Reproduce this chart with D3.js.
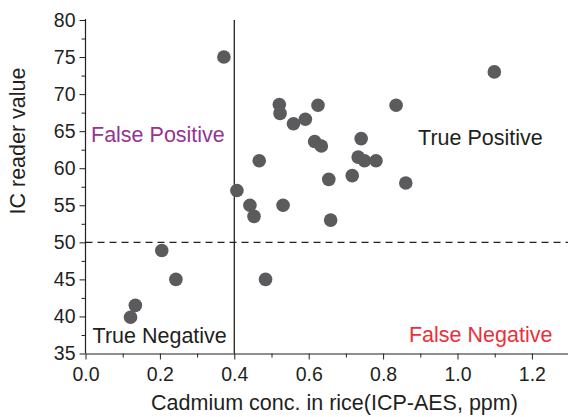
<!DOCTYPE html>
<html><head><meta charset="utf-8">
<script src="https://cdn.jsdelivr.net/npm/d3@7"></script>
<style>body{margin:0;background:#fff}svg{display:block}text{font-family:"Liberation Sans",Arial,sans-serif}</style>
</head><body><svg id="c" width="568" height="417"></svg>
<script>
const cadmium = [0.372,0.407,0.442,0.453,0.467,0.484,0.531,0.521,0.523,0.559,0.591,0.625,0.835,1.099,0.616,0.634,0.741,0.733,0.750,0.781,0.654,0.717,0.861,0.659,0.205,0.243,0.134,0.121];
const icValue = [75,57,55,53.5,61,45,55,68.6,67.4,66,66.6,68.5,68.5,73,63.6,63,64,61.5,61,61,58.5,59,58,53,48.9,45,41.5,39.9];
const xTicks = [0,0.2,0.4,0.6,0.8,1.0,1.2];
const yTicks = [35,40,45,50,55,60,65,70,75,80];
const cutoffX = 0.4, cutoffY = 50;
const quadrants = [
  {label:"False Positive", x:0.0148, y:63.55, color:"#953592"},
  {label:"True Positive", x:0.894, y:63.1, color:"#231f20"},
  {label:"True Negative", x:0.019, y:36.4, color:"#231f20"},
  {label:"False Negative", x:0.8696, y:36.5, color:"#ec2f3a"}
];

const svg = d3.select("#c");
const L=85.5, T=20, B=353.5;
const x = d3.scaleLinear().domain([0,1.3]).range([L, L+1.3*372]);
const y = d3.scaleLinear().domain([35,80]).range([B, T]);
const ink="#231f20";

// axes
const xa = svg.append("g").attr("transform",`translate(0,${B})`)
  .call(d3.axisBottom(x).tickValues(xTicks).tickFormat(d3.format(".1f")).tickSize(6).tickSizeOuter(0));
svg.append("g").attr("transform",`translate(0,${B})`)
  .call(d3.axisBottom(x).tickValues(d3.range(0.1,1.31,0.2)).tickFormat("").tickSize(4).tickSizeOuter(0))
  .select(".domain").remove();
const ya = svg.append("g").attr("transform",`translate(${L},0)`)
  .call(d3.axisLeft(y).tickValues(yTicks).tickSize(6).tickSizeOuter(0));
svg.append("g").attr("transform",`translate(${L},0)`)
  .call(d3.axisLeft(y).tickValues(d3.range(37.5,80,5)).tickFormat("").tickSize(4).tickSizeOuter(0))
  .select(".domain").remove();
svg.selectAll(".domain").attr("stroke",ink).attr("stroke-width",1.2);
svg.selectAll(".tick line").attr("stroke",ink).attr("stroke-width",1);
xa.selectAll("text").attr("font-size",19.5).attr("fill",ink).attr("dy","0.95em");
ya.selectAll("text").attr("font-size",19.5).attr("fill",ink).attr("dx","-0.05em");
ya.select(".domain").attr("d",`M0,${B}V${T-1}`);

// reference lines
svg.append("line").attr("x1",x(cutoffX)).attr("x2",x(cutoffX)).attr("y1",y(80)).attr("y2",B)
  .attr("stroke",ink).attr("stroke-width",1.3);
svg.append("line").attr("x1",L).attr("x2",568).attr("y1",y(cutoffY)).attr("y2",y(cutoffY))
  .attr("stroke",ink).attr("stroke-width",1.3).attr("stroke-dasharray","7,5");

// points
svg.append("g").selectAll("circle").data(cadmium).join("circle")
  .attr("cx",d=>x(d)).attr("cy",(d,i)=>y(icValue[i])).attr("r",6.8).attr("fill","#5b5b5d");

// quadrant labels
svg.append("g").selectAll("text").data(quadrants).join("text")
  .attr("x",d=>x(d.x)).attr("y",d=>y(d.y)).attr("fill",d=>d.color).attr("font-size",21.5).text(d=>d.label);

// axis titles
svg.append("text").attr("x",334.5).attr("y",410).attr("text-anchor","middle").attr("font-size",21.5).attr("fill",ink)
  .text("Cadmium conc. in rice(ICP-AES, ppm)");
svg.append("text").attr("transform","translate(25,141) rotate(-90)").attr("text-anchor","middle").attr("font-size",21.5).attr("fill",ink)
  .text("IC reader value");
</script></body></html>
